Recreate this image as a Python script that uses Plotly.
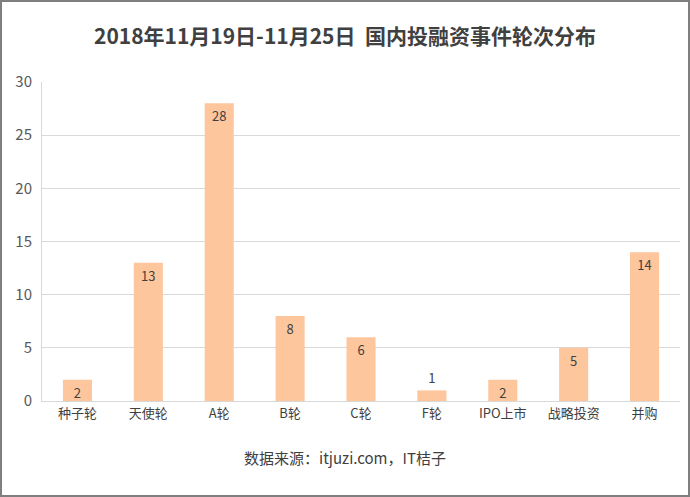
import plotly.graph_objects as go

rounds = ['种子轮', '天使轮', 'A轮', 'B轮', 'C轮', 'F轮', 'IPO上市', '战略投资', '并购']
counts = [2, 13, 28, 8, 6, 1, 2, 5, 14]

W, H = 690, 497
L, R, T, B = 42, 10, 82, 96
pw, ph = W - L - R, H - T - B

font_family = 'Noto Sans CJK SC, Microsoft YaHei, sans-serif'

fig = go.Figure()

fig.add_trace(go.Bar(
    x=rounds,
    y=counts,
    text=counts,
    textposition='auto',
    textangle=0,
    constraintext='none',
    insidetextanchor='end',
    insidetextfont=dict(color='#404040', size=13),
    outsidetextfont=dict(color='#404040', size=13),
    marker=dict(color='#FDC69C', line=dict(width=0)),
    cliponaxis=False,
))

# outer frame of the picture
fig.add_shape(
    type='rect', xref='paper', yref='paper',
    x0=(1 - L) / pw, x1=(W - 1 - L) / pw,
    y0=-(H - 1 - (T + ph)) / ph, y1=1 + (T - 1) / ph,
    line=dict(color='#7f7f7f', width=2), layer='above',
)

fig.add_annotation(
    text='数据来源：itjuzi.com，IT桔子',
    xref='paper', yref='paper',
    x=(345 - L) / pw, y=-(470 - (T + ph)) / ph,
    showarrow=False,
    font=dict(size=15, color='#404040', family=font_family),
)

fig.update_layout(
    width=W, height=H,
    margin=dict(l=L, r=R, t=T, b=B),
    paper_bgcolor='white',
    plot_bgcolor='white',
    bargap=0.59,
    showlegend=False,
    font=dict(family=font_family, color='#595959'),
    title=dict(
        text='<b>2018年11月19日-11月25日  国内投融资事件轮次分布</b>',
        x=0.5, xanchor='center',
        y=1 - 37 / H, yanchor='middle',
        font=dict(size=21, color='#404040', family=font_family),
    ),
    xaxis=dict(
        showgrid=False,
        showline=True, linecolor='#d9d9d9', linewidth=1,
        ticks='', tickfont=dict(size=13, color='#404040'),
    ),
    yaxis=dict(
        range=[0, 30], dtick=5,
        showgrid=True, gridcolor='#d9d9d9', gridwidth=1,
        showline=True, linecolor='#d9d9d9', linewidth=1,
        zeroline=False,
        ticks='', tickfont=dict(size=15, color='#595959'),
        ticklabelstandoff=6,
    ),
)

fig.write_html('out.html', config={'displayModeBar': False},
               post_script="document.body.style.margin='0';")
